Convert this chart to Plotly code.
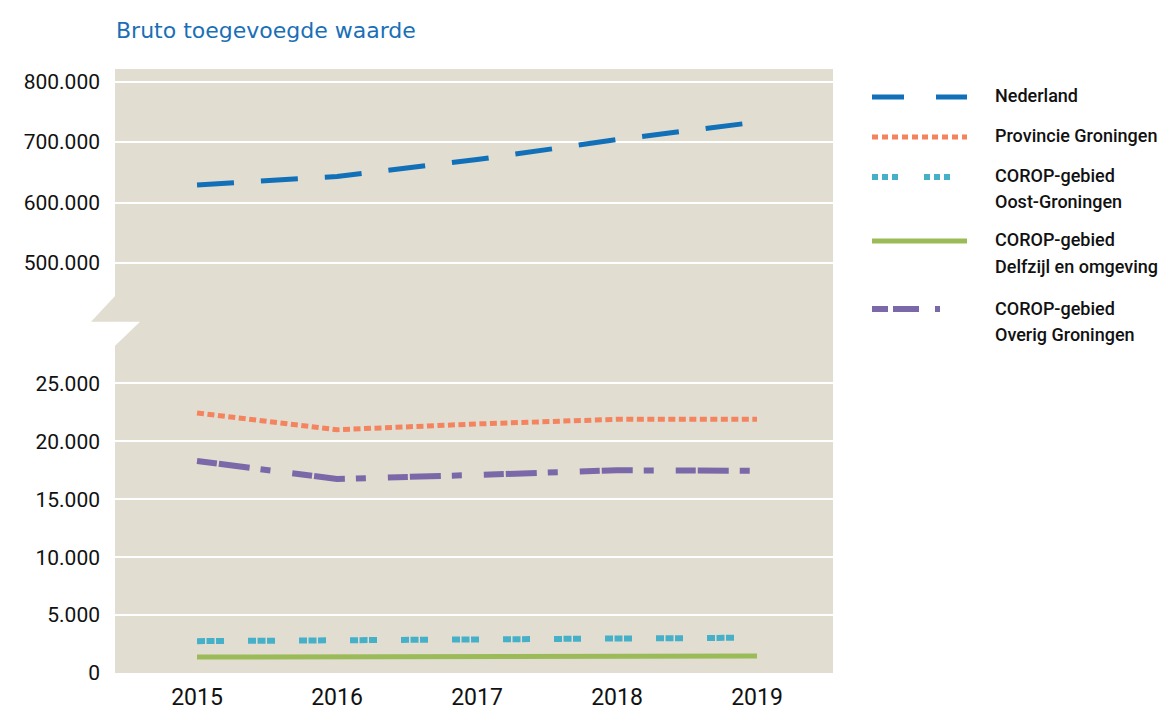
import plotly.graph_objects as go
from plotly.subplots import make_subplots

# Bruto toegevoegde waarde (mln euro)
years = [2015, 2016, 2017, 2018, 2019]
nederland = [629000, 643000, 671000, 704000, 733000]
provincie_groningen = [22450, 21000, 21500, 21900, 21900]
oost_groningen = [2750, 2800, 2950, 2950, 3050]
delfzijl = [1380, 1400, 1500, 1470, 1470]
overig_groningen = [18300, 16750, 17100, 17500, 17450]

upper_ticks = [500000, 600000, 700000, 800000]
lower_ticks = [0, 5000, 10000, 15000, 20000, 25000]


def nl_fmt(v):
    return f"{v:,}".replace(",", ".")


BG = "#E1DED1"
BLUE = "#1270B9"
ORANGE = "#F4845F"
CYAN = "#47B0C9"
GREEN = "#9BBB59"
PURPLE = "#7B68A8"

styles = {
    "Nederland": dict(color=BLUE, width=5, dash="37px,27px"),
    "Provincie Groningen": dict(color=ORANGE, width=5, dash="7px,3.5px"),
    "COROP-gebied Oost-Groningen": dict(color=CYAN, width=6, dash="8px,1.5px,8px,1.5px,8px,24px"),
    "COROP-gebied Delfzijl en omgeving": dict(color=GREEN, width=5),
    "COROP-gebied Overig Groningen": dict(color=PURPLE, width=6, dash="20px,2px,31px,11px,10px,22px"),
}

# the page body has an 8px margin, so the figure is a bit smaller than the window
OFF = 8
W, H = 1168 - 2 * OFF, 711 - OFF
L, R, T, B = 115, 833, 69, 673   # plot area in window pixels
split = 322
lower_frac = (B - split) / (B - T)

fig = make_subplots(rows=2, cols=1, shared_xaxes=True, vertical_spacing=0,
                    row_heights=[1 - lower_frac, lower_frac])

fig.add_trace(go.Scatter(x=years, y=nederland, mode="lines", name="Nederland",
                         line=styles["Nederland"]), row=1, col=1)
fig.add_trace(go.Scatter(x=years, y=delfzijl, mode="lines", line=styles["COROP-gebied Delfzijl en omgeving"]), row=2, col=1)
fig.add_trace(go.Scatter(x=years, y=oost_groningen, mode="lines", line=styles["COROP-gebied Oost-Groningen"]), row=2, col=1)
fig.add_trace(go.Scatter(x=years, y=overig_groningen, mode="lines", line=styles["COROP-gebied Overig Groningen"]), row=2, col=1)
fig.add_trace(go.Scatter(x=years, y=provincie_groningen, mode="lines", line=styles["Provincie Groningen"]), row=2, col=1)

tickfont = dict(family="Roboto", size=21, color="#111111")

fig.update_xaxes(range=[2014.414, 2019.543], showgrid=False, zeroline=False, showline=False,
                 tickvals=years, ticktext=[str(y) for y in years],
                 tickfont=dict(family="Roboto", size=23, color="#111111"),
                 ticklabelstandoff=8, automargin=False)
fig.update_yaxes(range=[402500, 820700], tickvals=upper_ticks,
                 ticktext=[nl_fmt(v) for v in upper_ticks], row=1, col=1)
fig.update_yaxes(range=[0, 30300], tickvals=lower_ticks,
                 ticktext=[nl_fmt(v) for v in lower_ticks], row=2, col=1)
fig.update_yaxes(showgrid=True, gridcolor="white", gridwidth=2, zeroline=False, showline=False,
                 tickfont=tickfont, ticklabelstandoff=14, automargin=False)

# axis break notch (window pixel -> paper coordinates)
def px(x):
    return (x - L) / (R - L)


def py(y):
    return (B - y) / (B - T)


fig.add_shape(type="path", xref="paper", yref="paper", layer="above", line_width=0, fillcolor=BG,
              path=f"M {px(115)},{py(296)} L {px(91)},{py(321.7)} L {px(115)},{py(321.7)} Z")
fig.add_shape(type="path", xref="paper", yref="paper", layer="above", line_width=0, fillcolor="white",
              path=f"M {px(114)},{py(321.7)} L {px(140)},{py(321.7)} L {px(114)},{py(346.7)} Z")

# legend, drawn by hand so the samples are as long as in the reference
legend_items = [
    (["Nederland"], 97, dict(color=BLUE, width=5, dash="32px,32px")),
    (["Provincie Groningen"], 137, dict(color=ORANGE, width=5, dash="6px,4px")),
    (["COROP-gebied", "Oost-Groningen"], 177, dict(color=CYAN, width=6, dash="6px,4px,6px,4px,6px,26px")),
    (["COROP-gebied", "Delfzijl en omgeving"], 241, dict(color=GREEN, width=5)),
    (["COROP-gebied", "Overig Groningen"], 309, dict(color=PURPLE, width=6, dash="16px,5px,26px,16px,5px,40px")),
]
for lines, ly, lstyle in legend_items:
    fig.add_shape(type="line", xref="paper", yref="paper", x0=px(872), x1=px(967),
                  y0=py(ly), y1=py(ly), line=lstyle)
    for i, txt in enumerate(lines):
        fig.add_annotation(xref="paper", yref="paper", x=px(993), y=py(ly - 1 + i * 26),
                           text=txt, showarrow=False, xanchor="left", yanchor="middle",
                           font=dict(family="Roboto", size=18, color="#111111", weight=500))

fig.update_layout(
    width=W, height=H,
    margin=dict(l=L - OFF, r=OFF + W - R, t=T - OFF, b=OFF + H - B),
    plot_bgcolor=BG, paper_bgcolor="white",
    showlegend=False,
    title=dict(text="Bruto toegevoegde waarde", x=(116 - OFF) / W, xanchor="left",
               y=1 - (30 - OFF) / H, yanchor="middle",
               font=dict(family="DejaVu Sans", size=22, color="#1A6FB6")),
)

fig.write_html("out.html")
